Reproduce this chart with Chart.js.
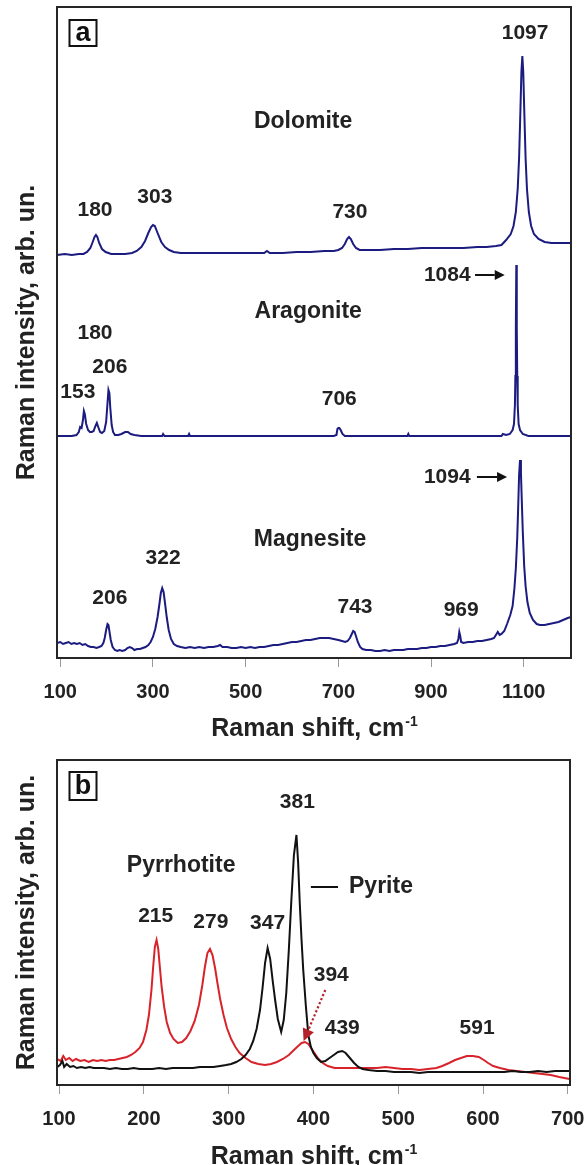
<!DOCTYPE html>
<html><head><meta charset="utf-8">
<script src="https://cdn.jsdelivr.net/npm/chart.js@4/dist/chart.umd.min.js"></script>
<style>
html,body{margin:0;padding:0;background:#fff;}
#wrapA{position:absolute;left:0;top:0;width:588px;height:745px;}
#wrapB{position:absolute;left:0;top:745px;width:588px;height:420px;}
</style></head><body>
<div id="wrapA"><canvas id="chartA" width="588" height="745"></canvas></div>
<div id="wrapB"><canvas id="chartB" width="588" height="420"></canvas></div>
<script>
// ---------- Panel a : carbonates (offset intensities, arb. un.) ----------
const ticksA = [100, 300, 500, 700, 900, 1100];
const dolomiteShift = [93,110,125,140,150,158,165,170,174,177,180,184,190,198,210,225,240,255,265,275,283,290,296,300,304,310,318,326,335,345,360,380,400,430,460,490,520,540,546,552,580,610,640,670,690,700,708,714,719,723,727,732,738,746,760,790,820,850,880,910,940,970,1000,1020,1040,1052,1062,1072,1078,1083,1087,1090,1093,1095,1097,1099,1101,1104,1107,1111,1116,1122,1132,1145,1160,1180,1202];
const dolomiteIntensity = [403,404,403,404,404,406,410,416,421,423,421,415,409,406,404,404,404,405,407,411,417,425,431,433,432,425,416,411,408,406,405,405,405,405,405,405,405,405,407,405,405,406,406,407,407,408,410,414,419,421,419,414,410,408,408,408,409,409,410,410,410,410,411,411,412,413,418,424,432,446,469,500,550,586,602,586,550,500,469,446,432,424,419,416,415,415,415];

const aragoniteShift = [93,110,125,135,140,143,146,149,151,153,156,160,164,168,172,176,179,182,186,190,195,199,202,204,206,208,211,214,218,225,232,240,246,252,260,275,300,320,322,325,350,376,378,380,420,460,500,540,580,620,660,690,696,698,700,702,704,706,709,714,740,780,820,849,851,853,900,950,1000,1040,1052,1055,1062,1070,1076,1079,1081,1082,1083,1084,1085,1086,1087,1089,1092,1098,1110,1150,1202];
const aragoniteIntensity = [222,222,222,223,226,231,230,238,247,244,234,228,226,226,227,232,235,231,226,225,227,236,255,268,265,250,233,226,223,223,224,226,226,224,223,222,222,222,224,222,222,222,224,222,222,222,222,222,222,222,222,222,223,229,230,230,229,227,224,222,222,222,222,222,224,222,222,222,222,222,222,224,223,224,228,234,253,282,330,393,330,282,253,234,228,224,222,222,222];

const magnesiteShift = [93,100,106,112,118,124,130,136,142,148,154,160,166,172,178,184,189,193,196,199,202,204,206,209,213,218,223,228,234,240,245,250,255,260,266,272,278,284,290,295,300,305,310,314,317,320,323,326,330,334,339,345,352,360,370,380,390,400,410,420,430,440,445,450,460,470,480,490,500,510,520,530,540,550,560,570,580,590,600,610,620,630,640,650,660,670,680,690,700,708,715,720,725,729,732,735,738,742,747,752,760,770,780,790,800,810,820,830,840,850,860,870,880,890,900,910,920,930,940,950,956,959,961,963,965,970,980,990,1000,1010,1020,1030,1036,1040,1044,1048,1052,1058,1064,1071,1076,1080,1083,1086,1088,1090,1092,1094,1096,1098,1101,1104,1108,1113,1120,1128,1135,1145,1155,1165,1175,1185,1195,1202];
const magnesiteIntensity = [15,16,14,15,16,14,15,14,15,13,14,12,11,11,10,11,12,15,20,28,34,33,27,18,11,8,7,8,7,8,10,11,10,8,9,9,10,11,13,16,21,29,41,54,65,70,66,55,40,28,19,14,12,11,10,11,10,11,10,11,11,12,13,11,11,10,10,11,10,11,10,11,11,12,13,13,14,15,16,16,17,18,18,19,20,20,20,19,18,17,16,17,20,24,27,26,22,16,11,9,8,8,7,7,8,7,8,8,8,9,9,9,10,10,11,11,12,12,13,14,15,19,26,22,16,15,16,16,17,17,18,19,20,23,26,23,24,27,34,43,52,70,90,120,150,183,198,185,155,126,92,72,56,45,38,34,33,33,34,35,36,38,40,41];

// ---------- Panel b : sulfides ----------
const ticksB = [100, 200, 300, 400, 500, 600, 700];
const pyrrhotiteShift = [98,102,105,108,112,116,120,125,130,135,140,145,150,155,160,165,170,175,180,185,190,195,199,203,206,209,211,213,215,217,219,221,224,227,231,235,240,245,250,255,260,265,269,272,275,278,281,284,287,290,294,298,303,308,313,320,327,335,343,350,357,364,371,377,382,386,390,394,398,402,406,411,417,425,435,445,455,465,475,485,495,505,515,525,535,545,552,560,567,574,581,588,595,601,606,612,620,630,640,650,660,670,680,690,702];
const pyrrhotiteIntensity = [26,24,29,25,27,24,26,24,25,23,25,24,25,24,25,25,26,27,28,30,33,37,43,55,70,95,118,138,145,136,117,98,78,63,52,46,42,43,47,54,64,80,100,118,132,136,130,117,101,86,70,57,46,38,32,27,23,21,20,21,23,26,30,35,39,42,43,41,36,31,26,22,19,17,17,17,17,17,17,18,17,16,16,15,16,17,19,22,25,27,29,29,28,25,22,19,17,15,14,13,12,11,10,8,6];

const pyriteShift = [98,101,104,106,109,113,117,121,126,131,136,141,147,153,160,167,174,181,188,195,202,210,218,226,234,242,250,258,266,274,282,290,297,303,309,315,320,325,329,333,337,340,343,346,349,352,355,358,362,365,368,371,374,377,380,382,384,386,388,391,394,397,400,404,409,414,419,424,429,434,438,443,448,453,458,465,475,485,495,505,515,525,535,545,555,565,575,585,595,605,615,625,635,645,655,665,675,685,695,702];
const pyriteIntensity = [18,20,24,18,21,18,19,17,18,17,18,17,17,17,16,17,16,16,17,16,16,16,17,16,17,17,17,17,18,18,18,19,20,21,23,26,30,36,44,56,75,97,122,137,126,104,84,66,53,65,92,135,185,230,250,222,180,145,115,80,50,38,32,27,23,24,27,30,33,34,32,27,22,18,16,15,14,14,13,13,13,12,13,13,13,13,13,13,13,13,13,13,14,13,13,14,13,14,14,14];

// ---------- Annotations (data coordinates) ----------
const labelsA = [
  {text:'1097', x:1103, y:625, size:21},
  {text:'Dolomite', x:624, y:536, size:23},
  {text:'180', x:175, y:448, size:21},
  {text:'303', x:304, y:461, size:21},
  {text:'730', x:725, y:446, size:21},
  {text:'1084', x:935, y:383, size:21},
  {text:'Aragonite', x:635, y:346, size:23},
  {text:'180', x:175, y:325, size:21},
  {text:'206', x:207, y:291, size:21},
  {text:'153', x:138, y:266, size:21},
  {text:'706', x:702, y:259, size:21},
  {text:'1094', x:935, y:181, size:21},
  {text:'Magnesite', x:639, y:118, size:23},
  {text:'322', x:322, y:100, size:21},
  {text:'206', x:207, y:60, size:21},
  {text:'743', x:736, y:51, size:21},
  {text:'969', x:965, y:48, size:21}
];
const arrowsA = [
  {x1:995, y1:383, x2:1059, y2:383},
  {x1:999, y1:181, x2:1064, y2:181}
];
const labelsB = [
  {text:'Pyrrhotite', x:244, y:219, size:23},
  {text:'215', x:214, y:169, size:21},
  {text:'279', x:279, y:163, size:21},
  {text:'347', x:346, y:162, size:21},
  {text:'381', x:381, y:283, size:21},
  {text:'Pyrite', x:442, y:198, size:23, align:'left'},
  {text:'394', x:421, y:110, size:21},
  {text:'439', x:434, y:57, size:21},
  {text:'591', x:593, y:57, size:21}
];
const arrowsB = [
  {x1:414, y1:95, x2:388.5, y2:44, color:'#b5222b', dash:[2.2,2.2], head:12, hw:6}
];
const segmentsB = [
  {x1:397, y1:198, x2:429, y2:198}
];

const FONT = "'Liberation Sans', Arial, Helvetica, sans-serif";
const TXT = '#222';
function bold(size){ return 'bold ' + size + 'px ' + FONT; }

function drawArrow(ctx, x1, y1, x2, y2, color, dash, lw, headLen, headW){
  ctx.save();
  ctx.strokeStyle = color; ctx.fillStyle = color; ctx.lineWidth = lw;
  const ang = Math.atan2(y2 - y1, x2 - x1);
  const bx = x2 - headLen * Math.cos(ang), by = y2 - headLen * Math.sin(ang);
  ctx.setLineDash(dash || []);
  ctx.beginPath(); ctx.moveTo(x1, y1); ctx.lineTo(bx, by); ctx.stroke();
  ctx.setLineDash([]);
  ctx.beginPath(); ctx.moveTo(x2, y2);
  ctx.lineTo(bx + headW * Math.sin(ang), by - headW * Math.cos(ang));
  ctx.lineTo(bx - headW * Math.sin(ang), by + headW * Math.cos(ang));
  ctx.closePath(); ctx.fill();
  ctx.restore();
}

function makeDecor(cfg){
  return {
    id: 'decor',
    afterDraw(chart){
      const ctx = chart.ctx, a = chart.chartArea, xs = chart.scales.x, ys = chart.scales.y;
      ctx.save();
      // frame
      ctx.strokeStyle = '#262626'; ctx.lineWidth = 2;
      ctx.strokeRect(a.left, a.top, a.right - a.left, a.bottom - a.top);
      // panel letter
      ctx.lineWidth = 2; ctx.strokeStyle = '#111';
      ctx.strokeRect(a.left + 12.5, a.top + cfg.letterDy, 27, cfg.letterH);
      ctx.fillStyle = '#111'; ctx.font = bold(27); ctx.textAlign = 'center'; ctx.textBaseline = 'middle';
      ctx.fillText(cfg.letter, a.left + 26, a.top + cfg.letterDy + cfg.letterH / 2 + 1);
      // labels
      ctx.fillStyle = TXT;
      cfg.labels.forEach(l => {
        ctx.font = bold(l.size);
        ctx.textAlign = l.align || 'center';
        ctx.fillText(l.text, xs.getPixelForValue(l.x), ys.getPixelForValue(l.y));
      });
      // segments
      (cfg.segments || []).forEach(s => {
        ctx.strokeStyle = '#111'; ctx.lineWidth = 2;
        ctx.beginPath();
        ctx.moveTo(xs.getPixelForValue(s.x1), ys.getPixelForValue(s.y1));
        ctx.lineTo(xs.getPixelForValue(s.x2), ys.getPixelForValue(s.y2));
        ctx.stroke();
      });
      // arrows
      (cfg.arrows || []).forEach(r => {
        drawArrow(ctx, xs.getPixelForValue(r.x1), ys.getPixelForValue(r.y1),
          xs.getPixelForValue(r.x2), ys.getPixelForValue(r.y2),
          r.color || '#111', r.dash, r.dash ? 2.2 : 2, r.head || 10, r.hw || 5);
      });
      // x-axis title with superscript
      const main = 'Raman shift, cm', sup = '-1';
      ctx.font = bold(25); const w1 = ctx.measureText(main).width;
      ctx.font = bold(14); const w2 = ctx.measureText(sup).width;
      const cx = (a.left + a.right) / 2, x0 = cx - (w1 + w2) / 2;
      ctx.fillStyle = TXT; ctx.textAlign = 'left'; ctx.textBaseline = 'alphabetic';
      ctx.font = bold(25); ctx.fillText(main, x0, cfg.titleY + 9);
      ctx.font = bold(14); ctx.fillText(sup, x0 + w1 + 1, cfg.titleY - 1);
      ctx.restore();
    }
  };
}

function pts(xs, ys){ return xs.map((x, i) => ({x: x, y: ys[i]})); }

function makeChart(id, cfg){
  return new Chart(document.getElementById(id), {
    type: 'line',
    data: { datasets: cfg.series.map(s => ({
      data: pts(s.x, s.y), borderColor: s.color, borderWidth: s.width || 2,
      pointRadius: 0, fill: false, tension: 0
    })) },
    options: {
      responsive: false, animation: false, events: [],
      layout: { padding: cfg.padding },
      plugins: { legend: {display: false}, tooltip: {enabled: false} },
      scales: {
        x: {
          type: 'linear', min: cfg.xmin, max: cfg.xmax,
          afterBuildTicks: s => { s.ticks = cfg.ticks.map(v => ({value: v})); },
          afterFit: s => { s.height = cfg.xHeight; s.paddingLeft = 0; s.paddingRight = 0; },
          ticks: { color: TXT, font: {family: FONT, size: 20, weight: 'bold'}, padding: 13,
                   maxRotation: 0, autoSkip: false, callback: v => String(v) },
          grid: { drawOnChartArea: false, tickLength: 9, color: '#9a9a9a', lineWidth: 1 },
          border: { display: false }
        },
        y: {
          type: 'linear', min: 0, max: cfg.ymax,
          afterFit: s => { s.width = 57; s.paddingTop = 0; s.paddingBottom = 0; },
          ticks: { display: false },
          grid: { display: false },
          border: { display: false },
          title: { display: true, text: 'Raman intensity, arb. un.', color: TXT,
                   font: {family: FONT, size: 25, weight: 'bold'}, padding: {top: 12, bottom: 0} }
        }
      }
    },
    plugins: [makeDecor(cfg.decor)]
  });
}

const NAVY = '#1b1b80';
makeChart('chartA', {
  series: [
    {x: dolomiteShift, y: dolomiteIntensity, color: NAVY},
    {x: aragoniteShift, y: aragoniteIntensity, color: NAVY},
    {x: magnesiteShift, y: magnesiteIntensity, color: NAVY}
  ],
  padding: {left: 0, top: 7, right: 17, bottom: 0},
  xmin: 93, xmax: 1202, ymax: 651, ticks: ticksA, xHeight: 87,
  decor: {letter: 'a', letterDy: 13, letterH: 26, labels: labelsA, arrows: arrowsA, titleY: 727}
});
makeChart('chartB', {
  series: [
    {x: pyriteShift, y: pyriteIntensity, color: '#111111'},
    {x: pyrrhotiteShift, y: pyrrhotiteIntensity, color: '#d8232a'}
  ],
  padding: {left: 0, top: 15, right: 18, bottom: 0},
  xmin: 97.6, xmax: 702.6, ymax: 325, ticks: ticksB, xHeight: 80,
  decor: {letter: 'b', letterDy: 12, letterH: 28, labels: labelsB, arrows: arrowsB, segments: segmentsB, titleY: 410}
});
</script>
</body></html>
